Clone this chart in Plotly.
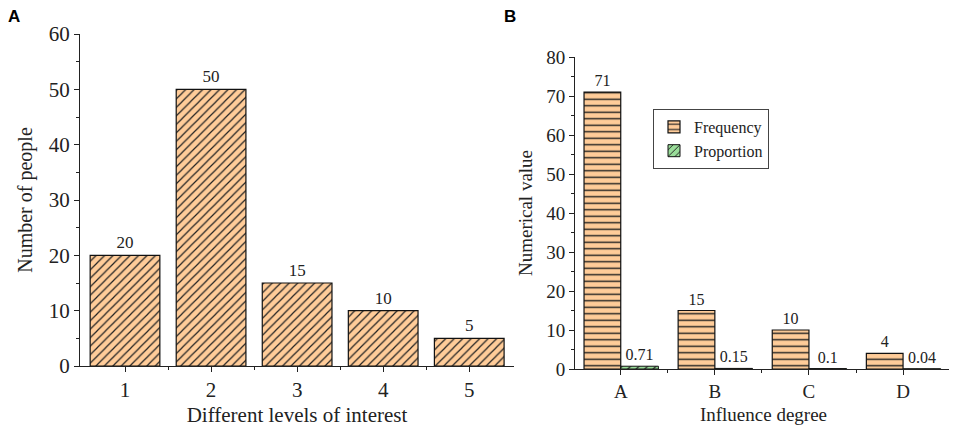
import plotly.graph_objects as go

# Panel A data
levels = [1, 2, 3, 4, 5]
people = [20, 50, 15, 10, 5]

# Panel B data
degrees = ["A", "B", "C", "D"]
frequency = [71, 15, 10, 4]
proportion = [0.71, 0.15, 0.1, 0.04]
prop_labels = ["0.71", "0.15", "0.1", "0.04"]

ORANGE = "#FFCC99"
GREEN = "#99DD99"
SERIF = "Liberation Serif, Times New Roman, serif"

W, H = 957, 429
OFF = 8  # page body margin
def px(x):
    return (x - OFF) / W
def py(y):
    return 1 - (y - OFF) / H

fig = go.Figure()

fig.add_trace(go.Bar(
    x=levels, y=people, xaxis="x", yaxis="y", width=0.81,
    marker=dict(color=ORANGE, line=dict(color="#111", width=1.2),
                pattern=dict(shape="/", fgcolor="#222", bgcolor=ORANGE, fgopacity=1,
                             size=6, solidity=0.2, fillmode="overlay")),
    text=[str(v) for v in people], textposition="outside", cliponaxis=False,
    constraintext="none",
    textfont=dict(family=SERIF, size=17, color="#222"),
    showlegend=False,
))

xi = list(range(len(degrees)))
fig.add_trace(go.Bar(
    x=xi, y=frequency, xaxis="x2", yaxis="y2", width=0.39, offset=-0.39,
    name="Frequency",
    marker=dict(color=ORANGE, line=dict(color="#111", width=1.2),
                pattern=dict(shape="-", fgcolor="#222", bgcolor=ORANGE, fgopacity=1,
                             size=6.5, solidity=0.22, fillmode="overlay")),
    text=[str(v) for v in frequency], textposition="outside", cliponaxis=False,
    constraintext="none",
    textfont=dict(family=SERIF, size=16, color="#222"),
))
fig.add_trace(go.Bar(
    x=xi, y=proportion, xaxis="x2", yaxis="y2", width=0.40, offset=0.0,
    name="Proportion",
    marker=dict(color=GREEN, line=dict(color="#111", width=1.0),
                pattern=dict(shape="/", fgcolor="#222", bgcolor=GREEN, fgopacity=1,
                             size=6, solidity=0.2, fillmode="overlay")),
    text=prop_labels, textposition="outside", cliponaxis=False,
    constraintext="none",
    textfont=dict(family=SERIF, size=16, color="#222"),
))

axis_common = dict(showline=True, linecolor="#222", linewidth=1, showgrid=False,
                   zeroline=False, ticks="outside", tickcolor="#222", ticklen=5,
                   automargin=False)

def f(size):
    return dict(family=SERIF, size=size, color="#222")

fig.update_layout(
    template="none",
    width=W, height=H,
    margin=dict(l=0, r=0, t=0, b=0, pad=0),
    paper_bgcolor="white", plot_bgcolor="white",
    barmode="overlay",
    font=dict(family=SERIF, color="#222"),
    xaxis=dict(**axis_common, domain=[px(80), px(514)], anchor="y",
               range=[0.477, 5.52], tickvals=levels, ticktext=[str(v) for v in levels],
               tickfont=f(21),
               minor=dict(tickvals=[1.5, 2.5, 3.5, 4.5], ticks="outside", ticklen=3, tickcolor="#222"),
               title=dict(text="Different levels of interest", font=f(21), standoff=6)),
    yaxis=dict(**axis_common, domain=[py(366), py(34)], anchor="x",
               range=[0, 60], dtick=10, tickfont=f(21),
               minor=dict(dtick=5, ticks="outside", ticklen=3, tickcolor="#222"),
               title=dict(text="Number of people", font=f(20), standoff=10)),
    xaxis2=dict(**axis_common, domain=[px(575), px(952)], anchor="y2",
                range=[-0.486, 3.52], tickvals=xi, ticktext=degrees,
                tickfont=f(19),
                minor=dict(tickvals=[0.5, 1.5, 2.5], ticks="outside", ticklen=3, tickcolor="#222"),
                title=dict(text="Influence degree", font=f(19), standoff=6)),
    yaxis2=dict(**axis_common, domain=[py(369), py(57)], anchor="x2",
                range=[0, 80], dtick=10, tickfont=f(19),
                minor=dict(dtick=5, ticks="outside", ticklen=3, tickcolor="#222"),
                title=dict(text="Numerical value", font=f(19), standoff=8)),
    legend=dict(x=px(653), y=py(109), xanchor="left", yanchor="top",
                bgcolor="white", bordercolor="#444", borderwidth=1,
                font=f(16), tracegroupgap=0, itemwidth=30),
    annotations=[
        dict(text="<b>A</b>", x=px(6), y=py(5), xref="paper", yref="paper",
             xanchor="left", yanchor="top", showarrow=False,
             font=dict(family="Liberation Sans, Arial, sans-serif", size=17, color="black")),
        dict(text="<b>B</b>", x=px(502), y=py(5), xref="paper", yref="paper",
             xanchor="left", yanchor="top", showarrow=False,
             font=dict(family="Liberation Sans, Arial, sans-serif", size=17, color="black")),
    ],
)

fig.write_html("out.html")
